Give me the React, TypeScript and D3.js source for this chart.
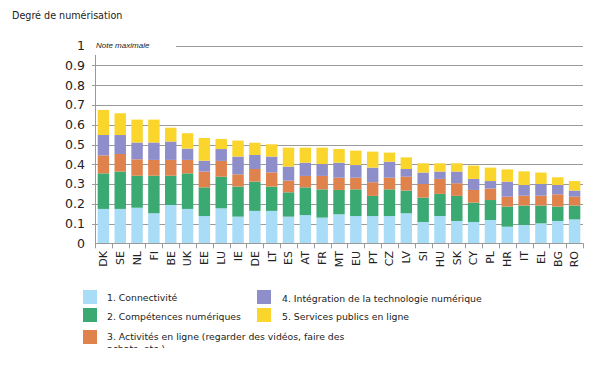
import React, { useEffect, useRef } from 'react';
import * as d3 from 'd3';

const countries = ["DK", "SE", "NL", "FI", "BE", "UK", "EE", "LU", "IE", "DE", "LT", "ES", "AT", "FR",
  "MT", "EU", "PT", "CZ", "LV", "SI", "HU", "SK", "CY", "PL", "HR", "IT", "EL", "BG", "RO"];

// each series = the height of its own segment
const connectivite = [0.174, 0.174, 0.18, 0.152, 0.194, 0.174, 0.138, 0.177, 0.135, 0.164, 0.164, 0.135, 0.143, 0.13,
  0.147, 0.138, 0.138, 0.138, 0.152, 0.108, 0.138, 0.113, 0.108, 0.118, 0.084, 0.093, 0.101, 0.113, 0.121];
const competences = [0.18, 0.189, 0.162, 0.19, 0.148, 0.18, 0.145, 0.16, 0.152, 0.148, 0.123, 0.123, 0.14, 0.143,
  0.123, 0.135, 0.102, 0.135, 0.115, 0.123, 0.112, 0.127, 0.098, 0.101, 0.102, 0.098, 0.09, 0.073, 0.07];
const activites = [0.091, 0.089, 0.083, 0.08, 0.08, 0.068, 0.08, 0.08, 0.062, 0.064, 0.072, 0.059, 0.058, 0.068,
  0.062, 0.059, 0.069, 0.059, 0.07, 0.069, 0.076, 0.064, 0.064, 0.058, 0.05, 0.05, 0.05, 0.062, 0.045];
const integration = [0.103, 0.096, 0.085, 0.088, 0.093, 0.057, 0.055, 0.06, 0.09, 0.071, 0.08, 0.071, 0.067, 0.06,
  0.076, 0.064, 0.074, 0.081, 0.039, 0.058, 0.037, 0.059, 0.056, 0.038, 0.076, 0.054, 0.059, 0.047, 0.031];
const services = [0.127, 0.11, 0.116, 0.116, 0.07, 0.078, 0.115, 0.051, 0.081, 0.062, 0.062, 0.096, 0.076, 0.083,
  0.069, 0.073, 0.081, 0.046, 0.059, 0.047, 0.042, 0.042, 0.067, 0.068, 0.062, 0.069, 0.058, 0.039, 0.048];

const seriesNames = [
  "1. Connectivité",
  "2. Compétences numériques",
  "3. Activités en ligne (regarder des vidéos, faire des achats, etc.)",
  "4. Intégration de la technologie numérique",
  "5. Services publics en ligne",
];
const colors = ["#a9dcf6", "#3aa972", "#e0824c", "#8e8ecb", "#fad52c"];
const yTicks = [0, 0.1, 0.2, 0.3, 0.4, 0.5, 0.6, 0.7, 0.8, 0.9, 1];

const font = "Verdana, 'DejaVu Sans', sans-serif";

function Chart() {
  const ref = useRef<SVGSVGElement>(null);

  useEffect(() => {
    const svg = d3.select(ref.current);
    svg.selectAll("*").remove();

    const left = 95, right = 583, top = 45.7, bottom = 243.3;

    const x = d3.scaleBand().domain(countries).range([left, right]).paddingInner(0.32).paddingOuter(0.16);
    const y = d3.scaleLinear().domain([0, 1]).range([bottom, top]);

    const rows = countries.map((c, i) => ({
      c, s0: connectivite[i], s1: competences[i], s2: activites[i], s3: integration[i], s4: services[i],
    }));
    const stack = d3.stack<any>().keys(["s0", "s1", "s2", "s3", "s4"])(rows);

    svg.append("text").attr("x", 12).attr("y", 19).attr("font-family", font).attr("font-size", 9.6)
      .attr("fill", "#222").text("Degré de numérisation");

    // gridlines
    svg.append("g").selectAll("line").data(yTicks.filter(t => t > 0)).enter().append("line")
      .attr("x1", t => (t === 1 ? 176 : left - 3)).attr("x2", right)
      .attr("y1", t => Math.round(y(t)) + 0.5).attr("y2", t => Math.round(y(t)) + 0.5)
      .attr("stroke", "#9a9a9a").attr("stroke-width", 1);

    svg.append("text").attr("x", 96).attr("y", 48).attr("font-family", "Arial, 'Liberation Sans', sans-serif")
      .attr("font-size", 8).attr("font-style", "italic").attr("fill", "#222").text("Note maximale");

    // y tick labels
    svg.append("g").selectAll("text").data(yTicks).enter().append("text")
      .attr("x", 85).attr("y", t => y(t)).attr("dy", "0.35em").attr("text-anchor", "end")
      .attr("font-family", font).attr("font-size", 12.5).attr("fill", "#222")
      .text(t => d3.format("~g")(t));

    // bars
    svg.append("g").selectAll("g").data(stack).enter().append("g")
      .attr("fill", (d, i) => colors[i])
      .selectAll("rect").data(d => d).enter().append("rect")
      .attr("x", d => x(d.data.c)!).attr("width", x.bandwidth())
      .attr("y", d => y(d[1])).attr("height", d => y(d[0]) - y(d[1]));

    // axes
    svg.append("line").attr("x1", left + 0.5).attr("x2", left + 0.5).attr("y1", 55).attr("y2", bottom)
      .attr("stroke", "#9a9a9a");
    svg.append("line").attr("x1", left).attr("x2", right).attr("y1", Math.round(bottom) + 0.5).attr("y2", Math.round(bottom) + 0.5)
      .attr("stroke", "#9a9a9a");
    const step = x.step();
    svg.append("g").selectAll("line").data(d3.range(countries.length + 1)).enter().append("line")
      .attr("x1", i => Math.round(left + i * step) + 0.5).attr("x2", i => Math.round(left + i * step) + 0.5)
      .attr("y1", bottom).attr("y2", bottom + 5).attr("stroke", "#9a9a9a");

    // x labels
    svg.append("g").selectAll("text").data(countries).enter().append("text")
      .attr("transform", c => `translate(${x(c)! + x.bandwidth() / 2},251) rotate(-90)`)
      .attr("dy", "0.35em").attr("text-anchor", "end")
      .attr("font-family", font).attr("font-size", 11).attr("fill", "#222").text(c => c);

    // legend
    const legend = [
      { i: 0, sx: 83, sy: 290, tx: 107, ty: 301 },
      { i: 1, sx: 83, sy: 308, tx: 107, ty: 320 },
      { i: 2, sx: 83, sy: 330, tx: 107, ty: 340 },
      { i: 3, sx: 257, sy: 290, tx: 282, ty: 302 },
      { i: 4, sx: 257, sy: 308, tx: 282, ty: 320 },
    ];
    svg.append("defs").append("clipPath").attr("id", "lg-clip")
      .append("rect").attr("x", 0).attr("y", 0).attr("width", 601).attr("height", 348);
    const lg = svg.append("g").attr("clip-path", "url(#lg-clip)");
    legend.forEach(l => {
      lg.append("rect").attr("x", l.sx).attr("y", l.sy).attr("width", 14).attr("height", 14).attr("fill", colors[l.i]);
      const t = lg.append("text").attr("x", l.tx).attr("y", l.ty)
        .attr("font-family", font).attr("font-size", 9.3).attr("fill", "#222");
      if (l.i === 2) {
        t.append("tspan").attr("x", l.tx).text("3. Activités en ligne (regarder des vidéos, faire des");
        t.append("tspan").attr("x", l.tx).attr("dy", 12).text("achats, etc.)");
      } else {
        t.text(seriesNames[l.i]);
      }
    });
  }, []);

  return <svg ref={ref} width={601} height={366} style={{ position: "absolute", left: 0, top: 0, background: "#fff" }} />;
}

export default function App() {
  return <Chart />;
}
